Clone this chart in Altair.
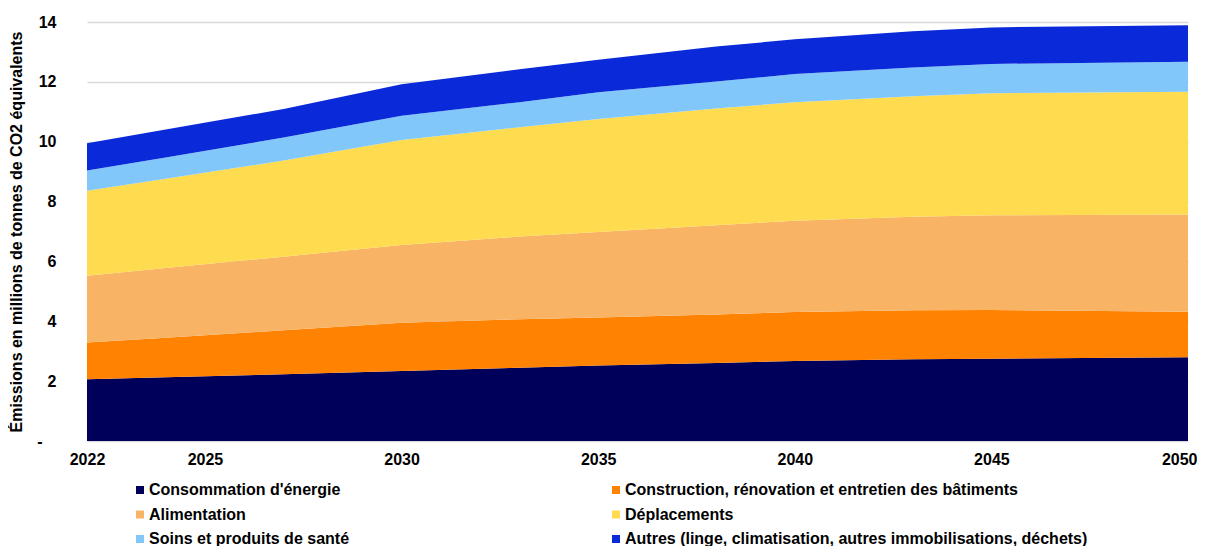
import altair as alt
import pandas as pd

years = [2022, 2024, 2027, 2030, 2033, 2035, 2038, 2040, 2043, 2045, 2050]
energie = [2.06, 2.13, 2.23, 2.34, 2.45, 2.52, 2.61, 2.67, 2.73, 2.75, 2.80]
construction = [1.23, 1.32, 1.47, 1.61, 1.62, 1.61, 1.62, 1.64, 1.64, 1.63, 1.52]
alimentation = [2.23, 2.33, 2.46, 2.60, 2.76, 2.85, 2.98, 3.05, 3.12, 3.16, 3.25]
deplacements = [2.84, 2.98, 3.21, 3.51, 3.65, 3.78, 3.90, 3.96, 4.03, 4.08, 4.10]
soins = [0.68, 0.71, 0.77, 0.81, 0.84, 0.89, 0.90, 0.94, 0.96, 0.98, 1.00]
autres = [0.91, 0.94, 0.95, 1.05, 1.10, 1.09, 1.17, 1.16, 1.21, 1.22, 1.22]

categories = [
    "Consommation d'énergie",
    "Construction, rénovation et entretien des bâtiments",
    "Alimentation",
    "Déplacements",
    "Soins et produits de santé",
    "Autres (linge, climatisation, autres immobilisations, déchets)",
]
colors = ["#00005A", "#FF8200", "#F9B365", "#FFDB4F", "#82C7FA", "#0A2ADA"]
series = [energie, construction, alimentation, deplacements, soins, autres]

x_ticks = [2022, 2025, 2030, 2035, 2040, 2045, 2050]
y_ticks = [0, 2, 4, 6, 8, 10, 12, 14]

rows = []
for i, (cat, vals) in enumerate(zip(categories, series)):
    for yr, v in zip(years, vals):
        rows.append({"annee": yr, "categorie": cat, "valeur": v, "ordre": i})
df = pd.DataFrame(rows)

FONT = "Liberation Sans"
FS = 16

chart = (
    alt.Chart(df)
    .mark_area(interpolate="linear")
    .encode(
        x=alt.X(
            "annee:Q",
            scale=alt.Scale(domain=[2022, 2050], nice=False, zero=False),
            axis=alt.Axis(
                values=x_ticks,
                format="d",
                title=None,
                grid=False,
                ticks=False,
                domain=False,
                labelPadding=10,
                labelFontSize=FS,
                labelFontWeight="bold",
                labelColor="#000000",
                labelFont=FONT,
                labelFlush=False,
                labelAlign={"condition": {"test": "datum.value == 2050", "value": "right"}, "value": "center"},
                labelOffset={"condition": {"test": "datum.value == 2050", "value": 9}, "value": 0},
            ),
        ),
        y=alt.Y(
            "valeur:Q",
            stack="zero",
            scale=alt.Scale(domain=[0, 14], nice=False),
            axis=alt.Axis(
                values=y_ticks,
                title="Émissions en millions de tonnes de CO2 équivalents",
                titleFontSize=FS,
                titleFontWeight="bold",
                titleColor="#000000",
                titleFont=FONT,
                titlePadding=12,
                grid=True,
                gridColor="#D9D9D9",
                gridWidth=1.5,
                ticks=False,
                tickSize=0,
                domain=False,
                labelExpr="datum.value == 0 ? '-' : datum.label",
                labelPadding={"condition": {"test": "datum.value == 0", "value": 45}, "value": 31},
                labelFontSize=FS,
                labelFontWeight="bold",
                labelColor="#000000",
                labelFont=FONT,
            ),
        ),
        color=alt.Color(
            "categorie:N",
            sort=categories,
            scale=alt.Scale(domain=categories, range=colors),
            legend=alt.Legend(
                title=None,
                orient="none",
                direction="horizontal",
                legendX=45,
                legendY=460,
                columns=2,
                columnPadding=258,
                rowPadding=8.5,
                symbolType="square",
                symbolSize=64,
                symbolStrokeWidth=0,
                labelOffset=1,
                labelFontSize=FS,
                labelFontWeight="bold",
                labelColor="#000000",
                labelFont=FONT,
                labelLimit=0,
            ),
        ),
        order=alt.Order("ordre:Q", sort="ascending"),
    )
    .properties(
        width=1101,
        height=419,
        padding={"left": 0, "top": 6, "right": 0, "bottom": 0},
    )
    .configure_view(stroke=None)
)

chart.save("out.html", embed_options={"renderer": "svg", "actions": False})
